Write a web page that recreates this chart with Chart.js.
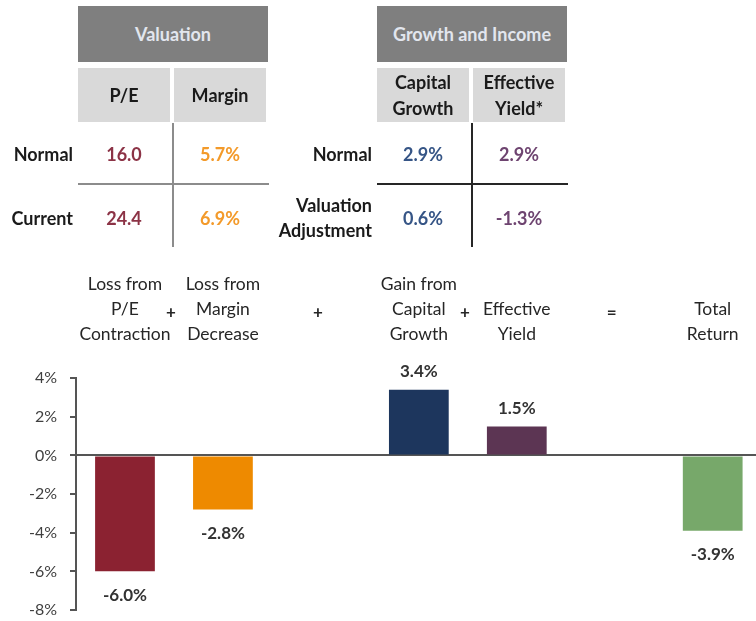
<!DOCTYPE html>
<html>
<head>
<meta charset="utf-8">
<script src="https://cdn.jsdelivr.net/npm/chart.js@4.4.1/dist/chart.umd.min.js"></script>
<style>
  body { margin: 0; width: 756px; height: 621px; overflow: hidden; background: #fff; position: relative; font-family: Lato, sans-serif; }
  #myChart { position: absolute; left: 0; top: 0; }
  .box { position: absolute; display: flex; align-items: center; justify-content: center; text-align: center; font-weight: bold; font-size: 18px; line-height: 26px; }
  .dark { background: #7f7f7f; color: #e2e6ee; }
  .light { background: #d9d9d9; color: #1a1a1a; }
  .cell { position: absolute; font-weight: bold; font-size: 18px; line-height: 26px; text-align: center; }
  .row { position: absolute; font-weight: bold; font-size: 18px; line-height: 25px; text-align: right; color: #1a1a1a; }
  .ln { position: absolute; }
</style>
</head>
<body>
<canvas id="myChart" width="770" height="621"></canvas>
<script>
// table data
const valTitle = 'Valuation';
const valHeads = ['P/E', 'Margin'];
const valRows = ['Normal', 'Current'];
const valData = [['16.0', '5.7%'], ['24.4', '6.9%']];
const valColors = ['#8c3346', '#f39a2a'];

const growTitle = 'Growth and Income';
const growHeads = [['Capital', 'Growth'], ['Effective', 'Yield*']];
const growRows = [['Normal'], ['Valuation', 'Adjustment']];
const growData = [['2.9%', '2.9%'], ['0.6%', '-1.3%']];
const growColors = ['#365586', '#6e4470'];

// chart data
const categories = [['Loss from', 'P/E', 'Contraction'], ['Loss from', 'Margin', 'Decrease'], '', ['Gain from', 'Capital', 'Growth'], ['Effective', 'Yield'], '', ['Total', 'Return']];
const values = [-6.0, -2.8, null, 3.4, 1.5, null, -3.9];
const barColors = ['#8b2231', '#ee8a00', '#ffffff', '#1d365d', '#5c3553', '#ffffff', '#77a86a'];
const opPos = [0.5, 2, 3.5, 5];
const opText = ['+', '+', '+', '='];
const yTicks = [4, 2, 0, -2, -4, -6, -8];

function add(cls, x, y, w, h, html, style) {
    const d = document.createElement('div');
    d.className = cls;
    d.style.left = x + 'px'; d.style.top = y + 'px';
    if (w != null) d.style.width = w + 'px';
    if (h != null) d.style.height = h + 'px';
    if (html != null) d.innerHTML = html;
    if (style) Object.assign(d.style, style);
    document.body.appendChild(d);
    return d;
}

function table(x0, title, heads, rows, data, colors, lineColor) {
    add('box dark', x0, 6, 190, 56, title);
    heads.forEach((h, i) => {
        add('box light', x0 + i * 96, 68, 92, 54, [].concat(h).join('<br>'));
    });
    rows.forEach((r, j) => {
        const lines = [].concat(r);
        const cy = 154 + j * 64;
        add('row', x0 - 200, cy - lines.length * 25 / 2, 195, null, lines.join('<br>'));
        data[j].forEach((v, i) => {
            add('cell', x0 + i * 96, cy - 13, 92, null, v, { color: colors[i] });
        });
    });
    add('ln', x0 + 94, 123, 2, 124, null, { background: lineColor });
    add('ln', x0, 183, 191, 2, null, { background: lineColor });
}

table(78, valTitle, valHeads, valRows, valData, valColors, '#8c8c8c');
table(377, growTitle, growHeads, growRows, growData, growColors, '#262626');

const labelPlugin = {
    id: 'labels',
    afterDatasetsDraw(chart) {
        const ctx = chart.ctx;
        const x = chart.scales.x;
        const area = chart.chartArea;
        ctx.save();
        ctx.fillStyle = '#333333';
        ctx.textAlign = 'center';
        ctx.textBaseline = 'middle';
        ctx.font = 'bold 17px Lato';
        chart.getDatasetMeta(0).data.forEach((bar, i) => {
            const v = values[i];
            if (v == null) return;
            const y = v < 0 ? bar.y + 24 : bar.y - 18;
            ctx.fillText(v.toFixed(1) + '%', bar.x, y);
        });
        ctx.font = 'bold 17px Lato';
        ctx.fillStyle = '#262626';
        opPos.forEach((p, i) => {
            ctx.fillText(opText[i], x.getPixelForValue(p) - 3, area.top - 66);
        });
        ctx.restore();
    }
};

const ctx = document.getElementById('myChart').getContext('2d');
const myChart = new Chart(ctx, {
    type: 'bar',
    data: {
        labels: categories,
        datasets: [{
            data: values,
            backgroundColor: barColors,
            categoryPercentage: 1,
            barPercentage: 0.61
        }]
    },
    options: {
        responsive: false,
        animation: false,
        layout: { padding: { top: 241, right: 6, bottom: 11, left: 0 } },
        plugins: { legend: { display: false }, tooltip: { enabled: false } },
        scales: {
            x: {
                position: 'top',
                grid: { display: false, drawTicks: false },
                border: { display: false },
                ticks: {
                    color: '#262626',
                    font: { family: 'Lato', size: 17.5, lineHeight: 1.43 },
                    padding: 31,
                    maxRotation: 0,
                    autoSkip: false
                }
            },
            y: {
                min: -8,
                max: 4,
                afterFit: s => { s.width = 76; s.paddingTop = 0; s.paddingBottom = 0; },
                afterBuildTicks: s => { s.ticks = yTicks.map(v => ({ value: v })); },
                grid: {
                    color: c => c.tick && c.tick.value === 0 ? '#555555' : 'rgba(0,0,0,0)',
                    lineWidth: 2,
                    tickColor: '#555555',
                    tickLength: 6
                },
                border: { color: '#555555', width: 2 },
                ticks: {
                    color: '#404040',
                    font: { family: 'Lato', size: 16 },
                    padding: 13,
                    callback: v => v + '%'
                }
            }
        }
    },
    plugins: [labelPlugin]
});
</script>
</body>
</html>
